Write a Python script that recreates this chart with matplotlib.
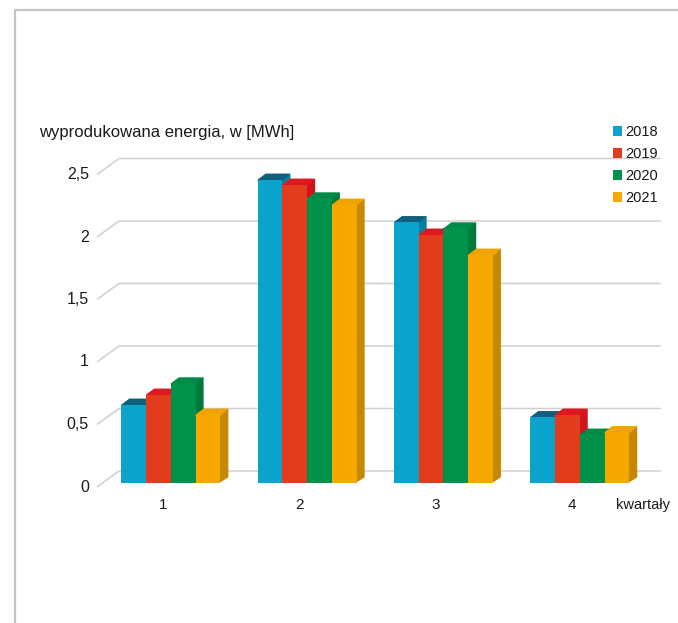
"""Quarterly energy production 2018-2021 as pseudo-3D clustered bars."""
import matplotlib
matplotlib.use("Agg")
import matplotlib.pyplot as plt
from matplotlib.patches import Polygon, Patch
from matplotlib.lines import Line2D

# data
QUARTERS = ["1", "2", "3", "4"]
YEARS = ["2018", "2019", "2020", "2021"]
E2018 = [0.63, 2.43, 2.09, 0.53]
E2019 = [0.71, 2.39, 1.99, 0.55]
E2020 = [0.80, 2.28, 2.04, 0.39]
E2021 = [0.55, 2.23, 1.83, 0.41]
TICKS = [0, 0.5, 1, 1.5, 2, 2.5]
TICK_LABELS = ["0", "0,5", "1", "1,5", "2", "2,5"]

# front / top / side colours per year
FRONT = ["#0ba3cb", "#e23c1d", "#00924b", "#f6a800"]
TOP = ["#0f5f7d", "#de1820", "#008a47", "#f0a400"]
SIDE = ["#0b7fa0", "#cf141c", "#007a3c", "#c68800"]
GRID = "#cfcfcf"
TEXT = "#1a1a1a"

W, H = 678, 623
plt.rcParams["font.family"] = ["Liberation Sans", "DejaVu Sans"]

fig = plt.figure(figsize=(W / 100, H / 100), dpi=100)
ax = fig.add_axes([0, 0, 1, 1])
ax.axis("off")

# pixel -> data helpers (one category step = 136.3 px, 1 MWh = 125 px)
SX, SY = 136.3, 125.0
X0, Y0 = 170.85, 483.3
def dx(px):
    return (px - X0) / SX
def dy(py):
    return (Y0 - py) / SY

ax.set_xlim(dx(0), dx(W))
ax.set_ylim(dy(H), dy(0))

# back wall grid with short depth lines on the left
for v, lab in zip(TICKS, TICK_LABELS):
    yf = v + dy(487)
    yb = v + dy(471)
    ax.plot([dx(97), dx(119), dx(661)], [yf, yb, yb], color=GRID, lw=1.1, zorder=1,
            solid_capstyle="butt")
    ax.text(dx(89), yf, lab, ha="right", va="center", fontsize=11.5, color=TEXT)

# bars
series = [E2018, E2019, E2020, E2021]
bw = 24.75 / SX
ddx, ddy = 8 / SX, 6 / SY
ox, oy = 1.5 / SX, 1.5 / SY  # small overlap hidden behind the front face
for j, vals in enumerate(series):
    for i, v in enumerate(vals):
        x0 = i - 2 * bw + j * bw
        x1 = x0 + bw
        z = 10 + j * 3
        ax.add_patch(Polygon([(x1 - ox, 0), (x1 + ddx, ddy), (x1 + ddx, v + ddy), (x1 - ox, v)],
                             closed=True, facecolor=SIDE[j], edgecolor="none", zorder=z))
        ax.add_patch(Polygon([(x0, v - oy), (x1, v - oy), (x1 + ddx, v + ddy),
                              (x0 + ddx, v + ddy), (x0, v)],
                             closed=True, facecolor=TOP[j], edgecolor="none", zorder=z + 1))
    xs = [i - 2 * bw + j * bw for i in range(len(vals))]
    ax.bar(xs, vals, width=bw, align="edge", color=FRONT[j], edgecolor="none",
           zorder=10 + j * 3 + 2)

# category labels
for i, q in enumerate(QUARTERS):
    ax.text(i - 7.5 / SX, dy(505), q, ha="center", va="center", fontsize=11, color=TEXT)
ax.text(dx(616), dy(505), "kwartały", ha="left", va="center", fontsize=10.5, color=TEXT)

ax.text(dx(39), dy(132), "wyprodukowana energia, w [MWh]", ha="left", va="center",
        fontsize=12, color=TEXT)

# legend
handles = [Patch(facecolor=c, edgecolor="none") for c in FRONT]
fig.legend(handles, YEARS, loc="upper left", bbox_to_anchor=(613 / W, 1 - 125 / H),
           frameon=False, fontsize=10.5, handlelength=0.65, handleheight=0.65,
           handletextpad=0.2, labelspacing=0.55, borderpad=0, borderaxespad=0,
           labelcolor=TEXT)

# frame around the panel (top and left edges only are visible)
fig.add_artist(Line2D([15 / W, 15 / W, 1], [0, 1 - 10 / H, 1 - 10 / H],
                      transform=fig.transFigure, color="#c4c4c4", lw=1.6))

fig.savefig("out.png", dpi=100, facecolor="white")
